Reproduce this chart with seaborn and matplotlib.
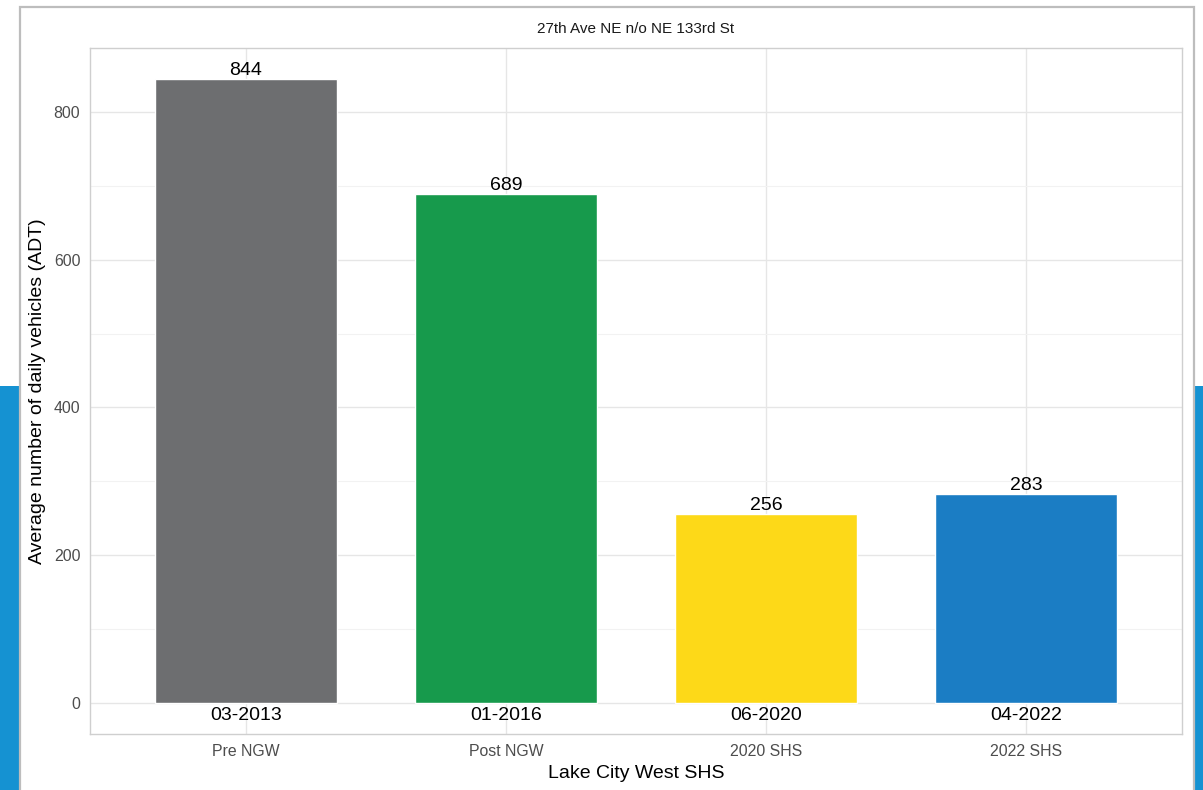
import matplotlib
matplotlib.use("Agg")
import matplotlib.pyplot as plt
import matplotlib.patches as mpatches
import seaborn as sns
import pandas as pd

# Data
periods = ["Pre NGW", "Post NGW", "2020 SHS", "2022 SHS"]
count_dates = ["03-2013", "01-2016", "06-2020", "04-2022"]
adt = [844, 689, 256, 283]
bar_colors = ["#6D6E70", "#179A4C", "#FDD918", "#1B7DC4"]
y_ticks = [0, 200, 400, 600, 800]

title = "27th Ave NE n/o NE 133rd St"
x_title = "Lake City West SHS"
y_title = "Average number of daily vehicles (ADT)"

sns.set_theme(style="white")
plt.rcParams["font.family"] = ["Liberation Sans", "DejaVu Sans"]

W, H = 1203, 790
fig = plt.figure(figsize=(W / 100, H / 100), dpi=100)
fig.patch.set_facecolor("white")

# Decorative blue strips and the outer frame
fig.patches.append(mpatches.Rectangle((0, 0), 19 / W, (H - 386) / H, transform=fig.transFigure,
                                      facecolor="#1592D2", edgecolor="none", zorder=0))
fig.patches.append(mpatches.Rectangle((1195 / W, 0), 8 / W, (H - 386) / H, transform=fig.transFigure,
                                      facecolor="#1592D2", edgecolor="none", zorder=0))
fig.patches.append(mpatches.Rectangle((20 / W, -0.05), (1194 - 20) / W, 1.05 - 6.7 / H,
                                      transform=fig.transFigure, facecolor="none",
                                      edgecolor="#BDBDBD", linewidth=1.6, zorder=1))

ax = fig.add_axes([90 / W, (H - 734) / H, (1182 - 90) / W, (734 - 48.3) / H])
ax.set_facecolor("white")

df = pd.DataFrame({"period": periods, "adt": adt, "date": count_dates})
sns.barplot(data=df, x="period", y="adt", hue="period", palette=bar_colors,
            order=periods, hue_order=periods, width=0.7, legend=False,
            saturation=1, ax=ax, zorder=2)

ax.set_xlim(-0.6, 3.6)
ax.set_ylim(-42.2, 886.2)
ax.set_yticks(y_ticks)
ax.set_yticks([100, 300, 500, 700], minor=True)

ax.grid(True, which="major", color="#E6E6E6", linewidth=1.0, zorder=0)
ax.grid(True, which="minor", axis="y", color="#F2F2F2", linewidth=0.8, zorder=0)
ax.set_axisbelow(True)

for side in ["left", "right", "top", "bottom"]:
    ax.spines[side].set_visible(True)
    ax.spines[side].set_color("#CFCFCF")
    ax.spines[side].set_linewidth(1.0)

ax.tick_params(axis="both", which="major", length=4, width=0.8, color="#BDBDBD",
               labelsize=11.4, labelcolor="#4D4D4D", pad=3)
ax.tick_params(axis="both", which="minor", length=0)
ax.set_xlabel("")
ax.set_ylabel("")

# Value labels above bars and date labels under the baseline
for i, (v, d) in enumerate(zip(adt, count_dates)):
    ax.annotate(str(v), xy=(i, v), xytext=(0, 0), textcoords="offset pixels",
                ha="center", va="bottom", fontsize=14, color="black", zorder=5)
    ax.annotate(d, xy=(i, 0), xytext=(0, -13), textcoords="offset pixels",
                ha="center", va="center", fontsize=14, color="black", zorder=5)

fig.text(636 / W, 1 - 29 / H, title, ha="center", va="center", fontsize=11, color="#1A1A1A")
fig.text(636 / W, 1 - 773 / H, x_title, ha="center", va="center", fontsize=14, color="black")
fig.text(38 / W, (H - 391) / H, y_title, ha="center", va="center", rotation=90,
         fontsize=14, color="black")

fig.savefig("out.png", dpi=100, facecolor="white")
